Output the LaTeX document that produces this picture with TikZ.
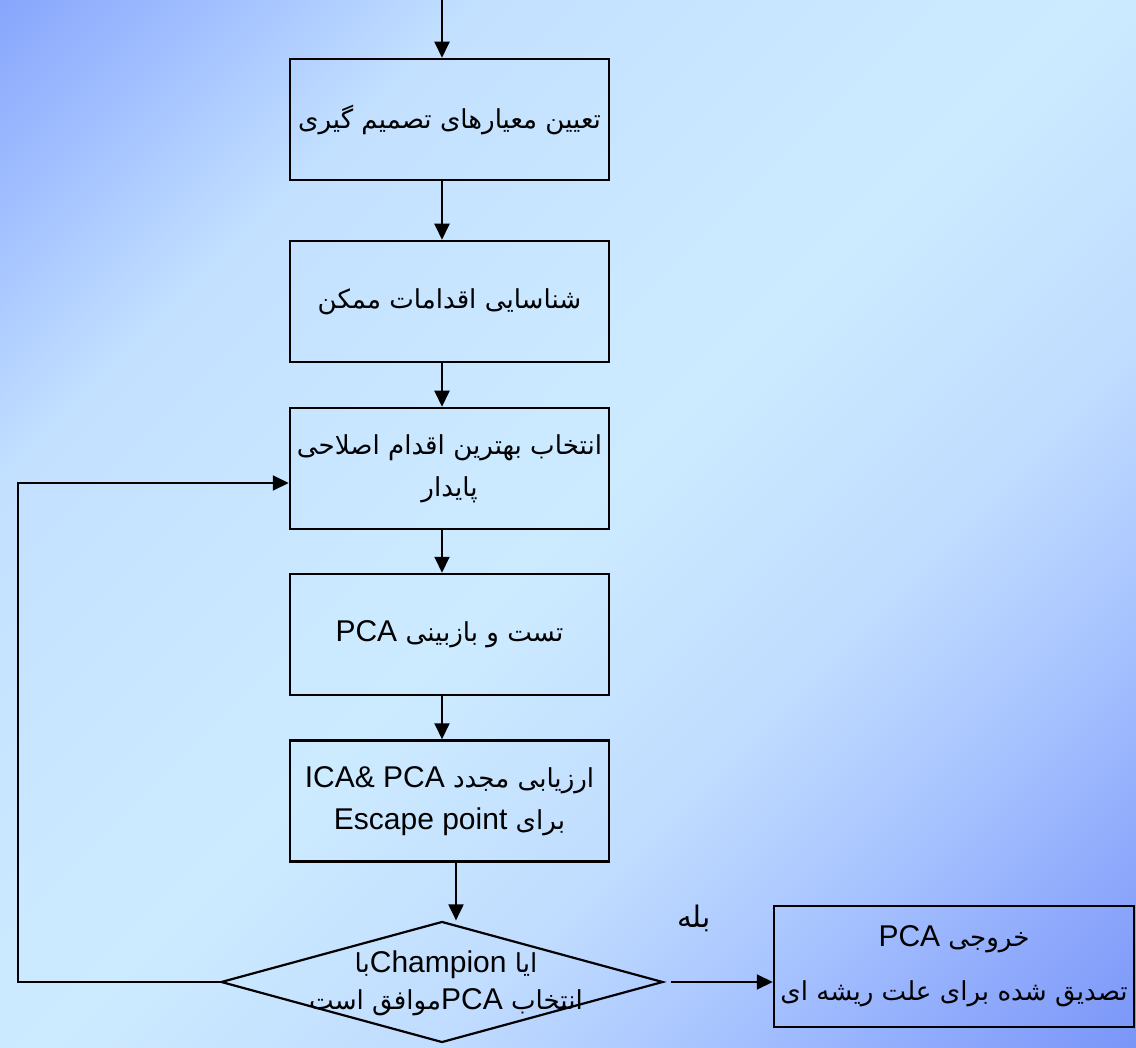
\documentclass[tikz,border=0pt]{standalone}
\usepackage{
	fontspec,			% Fonts
	tikz
}
\usetikzlibrary{arrows.meta,shapes.geometric}
\setmainfont{Liberation Sans}
\newfontfamily\farsi[Script=Arabic,Scale=0.87]{DejaVu Sans}
\TeXXeTstate=1
\newcommand{\lat}[1]{\beginL{\rmfamily #1}\endL}

\definecolor{bgdark}{RGB}{136,166,252}
\definecolor{bgdim}{RGB}{162,192,255}
\definecolor{bgsoft}{RGB}{195,225,255}
\definecolor{bglight}{RGB}{205,235,255}
\definecolor{bgfade}{RGB}{192,220,255}
\definecolor{bgmid}{RGB}{168,196,255}
\definecolor{bgblue}{RGB}{145,172,252}
\definecolor{bgdeep}{RGB}{122,150,248}
\pgfdeclareverticalshading{bggrad}{100bp}{color(0bp)=(bgdeep); color(14.6bp)=(bgdeep); color(21.8bp)=(bgblue); color(28.8bp)=(bgmid); color(37.3bp)=(bgfade); color(50bp)=(bglight); color(69.8bp)=(bgsoft); color(78.3bp)=(bgdim); color(85.4bp)=(bgdark); color(100bp)=(bgdark)}

\begin{document}
\begin{tikzpicture}[x=0.5pt,y=-0.5pt,
	txt/.style={font=\fontsize{15}{21}\selectfont\farsi, align=center},
	box/.style={txt, draw, line width=1.25pt, minimum width=159.5pt, minimum height=60.5pt, inner sep=0pt},
	arr/.style={-{Triangle[length=8pt,width=7.5pt]}, line width=1pt}]
		\useasboundingbox (0,0) rectangle (1136,1048);
		\shade[shading=bggrad, shading angle=45] (0,0) rectangle (1136,1048);
		\node[box] (crit) at (449.5,119.5) {\beginR تعیین معیارهای تصمیم گیری\endR};
		\node[box] (acts) at (449.5,301.5) {\beginR شناسایی اقدامات ممکن\endR};
		\node[box] (best) at (449.5,468.5) {\beginR انتخاب بهترین اقدام اصلاحی\endR\\\beginR پایدار\endR};
		\node[box] (test) at (449.5,634.5) {\beginR تست و بازبینی \lat{PCA}\endR};
		\node[box] (eval) at (449.5,801) {\beginR ارزیابی مجدد \lat{ICA\& PCA}\endR\\\beginR برای \lat{Escape point}\endR};
		\node[draw, diamond, line width=1.1pt, minimum width=221pt, minimum height=60.5pt, inner sep=0pt] (dec) at (442,982) {};
		\node[txt, font=\fontsize{15}{18.5}\selectfont\farsi] (dectext) at (446,983) {\beginR ایا \lat{Champion}با\endR\\\beginR انتخاب \lat{PCA}موافق است\endR};
		\node[box, minimum width=180pt] (out) at (954,966.5) {\beginR خروجی \lat{PCA}\endR\\[6pt]\beginR تصدیق شده برای علت ریشه ای\endR};
		\node[txt, font=\fontsize{17}{21}\selectfont\farsi] (yes) at (694,918) {\beginR بله\endR};
		\coordinate (top) at (442,0);
		\coordinate (side) at (456,0);
		\coordinate (loop) at (18,483);
		\draw[arr] (top) -- (top |- crit.north);
		\draw[arr] (crit.south -| top) -- (acts.north -| top);
		\draw[arr] (acts.south -| top) -- (best.north -| top);
		\draw[arr] (best.south -| top) -- (test.north -| top);
		\draw[arr] (test.south -| top) -- (eval.north -| top);
		\draw[arr] (eval.south -| side) -- (dec.north -| side);
		\draw[arr] (dec.west) -| (loop) -- (loop -| best.west);
		\draw[arr] ([xshift=3.5pt]dec.east) -- (dec.east -| out.west);
	\end{tikzpicture}
\end{document}
